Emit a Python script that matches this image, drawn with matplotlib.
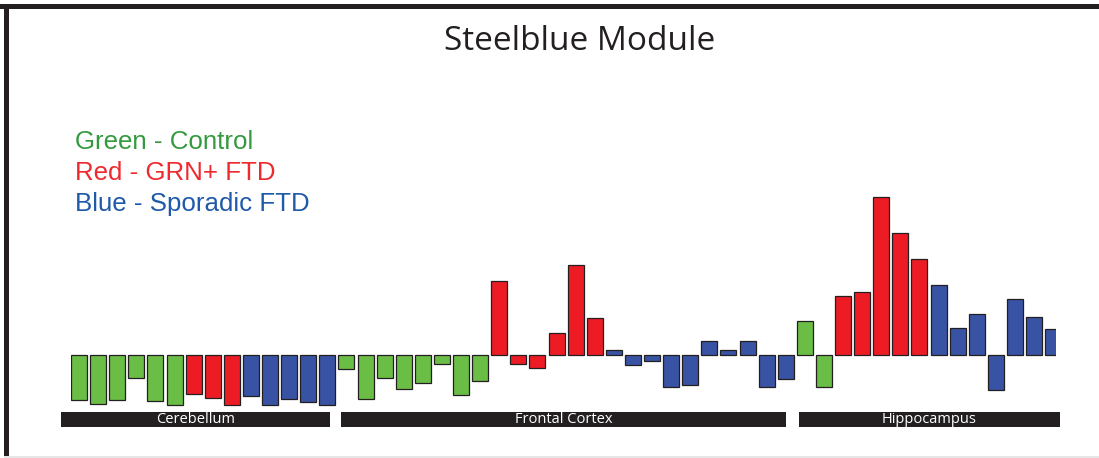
import numpy as np
import matplotlib
matplotlib.use("Agg")
import matplotlib.pyplot as plt
from matplotlib.patches import Rectangle

# values (arbitrary units, 0 = baseline)
cerebellum_control = [-45, -49, -45, -23, -46, -50]
cerebellum_grn = [-39, -43, -50]
cerebellum_sporadic = [-41, -50, -44, -47, -50]

frontal_control = [-14, -44, -23, -34, -28, -9, -40, -26]
frontal_grn = [74, -9, -13, 22, 90, 37]
frontal_sporadic = [5, -10, -6, -32, -30, 14, 5, 14, -32, -24]

hippo_control = [34, -32]
hippo_grn = [59, 63, 158, 122, 96]
hippo_sporadic = [70, 27, 41, -35, 56, 38, 26]

regions = ["Cerebellum", "Frontal Cortex", "Hippocampus"]
region_groups = [
    [cerebellum_control, cerebellum_grn, cerebellum_sporadic],
    [frontal_control, frontal_grn, frontal_sporadic],
    [hippo_control, hippo_grn, hippo_sporadic],
]

bar_colors = ["#6abd45", "#ed1c24", "#3953a4"]
legend_colors = ["#339a3f", "#ee2a2e", "#1e5aa8"]
legend_labels = ["Green - Control", "Red - GRN+ FTD", "Blue - Sporadic FTD"]

# flatten into one sequence of bars
values, colors, region_start, region_len = [], [], [], []
for groups in region_groups:
    region_start.append(len(values))
    n = 0
    for g, vals in enumerate(groups):
        values.extend(vals)
        colors.extend([bar_colors[g]] * len(vals))
        n += len(vals)
    region_len.append(n)
x = np.arange(len(values))

W, H = 1099, 458
fig = plt.figure(figsize=(W / 100, H / 100), dpi=100)

# frame: thick dark line on top and left, faint grey line at the bottom
fig.add_artist(Rectangle((0, 1 - 9 / H), 1, 5 / H, transform=fig.transFigure,
                         facecolor="#231f20", edgecolor="none"))
fig.add_artist(Rectangle((4 / W, 0), 5 / W, 1 - 4 / H, transform=fig.transFigure,
                         facecolor="#231f20", edgecolor="none"))
fig.add_artist(Rectangle((4 / W, 0), 1, 2 / H, transform=fig.transFigure,
                         facecolor="#e6e6e6", edgecolor="none"))

# bar axes: left at 71px, right at 1056px, top at 150px, bottom at 435px
left_px, right_px, top_px, bot_px = 71, 1056, 150, 435
step = 19.1
ax = fig.add_axes([left_px / W, (H - bot_px) / H,
                   (right_px - left_px) / W, (bot_px - top_px) / H])
ax.bar(x, values, width=0.84, align="edge", color=colors,
       edgecolor="#231f20", linewidth=0.9)
ax.set_xlim(0, (right_px - left_px) / step)
ax.set_ylim(-(bot_px - 355), 355 - top_px)
ax.axis("off")

# region label bars under the bars
pads = [(-0.52, -0.45), (0.14, -0.58), (0.1, -0.2)]
for name, s, n, (pl, pr) in zip(regions, region_start, region_len, pads):
    x0, x1 = s + pl, s + n + pr
    ax.add_patch(Rectangle((x0, -72), x1 - x0, 15, facecolor="#231f20",
                           edgecolor="none", clip_on=False))
    ax.text((x0 + x1) / 2, -64.5, name, color="white", ha="center",
            va="center", fontsize=10.5, family="Open Sans", clip_on=False)

# title and colour key
fig.text(580 / W, 1 - 42 / H, "Steelblue Module", ha="center", va="center",
         fontsize=24, family="Open Sans", color="#231f20")
for i, (lab, c) in enumerate(zip(legend_labels, legend_colors)):
    fig.text(75 / W, 1 - (149 + 31 * i) / H, lab, ha="left", va="baseline",
             fontsize=18.6, family="Liberation Sans", color=c)

fig.savefig("out.png", dpi=100)
